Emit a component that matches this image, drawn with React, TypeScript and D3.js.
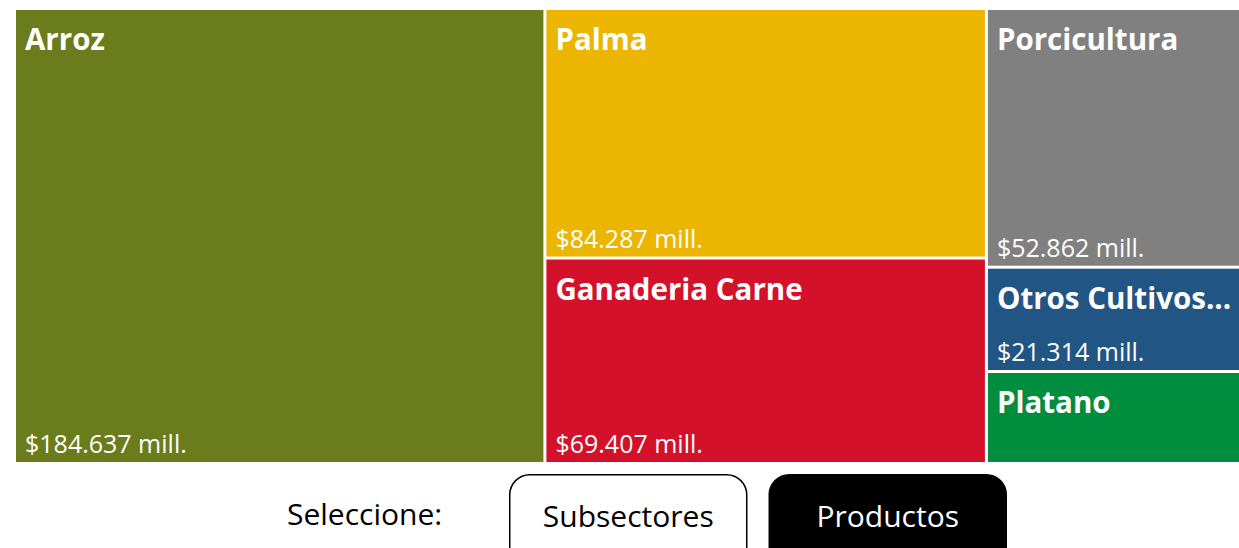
import React, { useEffect, useRef } from 'react';
import * as d3 from 'd3';

// productos y valores (millones)
const productos = ['Arroz', 'Palma', 'Ganaderia Carne', 'Porcicultura', 'Otros Cultivos...', 'Platano'];
const valores = [184.637, 84.287, 69.407, 52.862, 21.314, 18.8];
const colores = ['#6A7C1C', '#EBB500', '#D4112A', '#808080', '#215584', '#008E3E'];
// agrupacion en columnas del treemap
const columnas = [[0], [1, 2], [3, 4, 5]];
const botones = ['Subsectores', 'Productos'];
const botonActivo = 'Productos';

const FONT = "'Open Sans', 'Noto Sans', sans-serif";

const fmt = (v: number) => '$' + d3.format('.3f')(v) + ' mill.';

export default function App() {
    const ref = useRef<SVGSVGElement>(null);

    useEffect(() => {
        const width = 1239;
        const height = 548;
        const svg = d3.select(ref.current)
            .attr('width', width)
            .attr('height', height);
        svg.selectAll('*').remove();

        const data = {
            name: 'root',
            children: columnas.map((col, c) => ({
                name: 'col' + c,
                children: col.map(i => ({ name: productos[i], value: valores[i], color: colores[i] }))
            }))
        };

        const root = d3.hierarchy<any>(data).sum(d => d.value || 0);

        const tile = (node: any, x0: number, y0: number, x1: number, y1: number) => {
            if (node.depth === 0) d3.treemapDice(node, x0, y0, x1, y1);
            else d3.treemapSlice(node, x0, y0, x1, y1);
        };

        d3.treemap<any>()
            .size([1236, 452])
            .paddingInner(3)
            .tile(tile)(root);

        const g = svg.append('g').attr('transform', 'translate(16,10)');

        const cell = g.selectAll('g')
            .data(root.leaves())
            .enter()
            .append('g')
            .attr('transform', (d: any) => 'translate(' + d.x0 + ',' + d.y0 + ')');

        cell.append('rect')
            .attr('width', (d: any) => d.x1 - d.x0)
            .attr('height', (d: any) => d.y1 - d.y0)
            .attr('fill', (d: any) => d.data.color);

        cell.append('text')
            .attr('x', 9)
            .attr('y', 40)
            .attr('fill', '#fff')
            .attr('font-family', FONT)
            .attr('font-weight', 700)
            .attr('font-size', 29.5)
            .text((d: any) => d.data.name);

        // valor solo si cabe
        cell.filter((d: any) => d.y1 - d.y0 > 95)
            .append('text')
            .attr('x', 9)
            .attr('y', (d: any) => d.y1 - d.y0 - 9)
            .attr('fill', '#fff')
            .attr('font-family', FONT)
            .attr('font-size', 25)
            .text((d: any) => fmt(d.data.value));

        // selector
        svg.append('text')
            .attr('x', 287)
            .attr('y', 525)
            .attr('font-family', FONT)
            .attr('font-size', 30)
            .attr('fill', '#000')
            .text('Seleccione:');

        const bx = d3.scaleBand().domain(botones).range([509, 1007]).paddingInner(0.081);

        const b = svg.selectAll('g.btn')
            .data(botones)
            .enter()
            .append('g')
            .attr('class', 'btn')
            .attr('transform', d => 'translate(' + bx(d) + ',474)');

        b.append('rect')
            .attr('x', 0.75)
            .attr('y', 0.75)
            .attr('width', bx.bandwidth() - 1.5)
            .attr('height', 100)
            .attr('rx', 20)
            .attr('fill', d => d === botonActivo ? '#000' : '#fff')
            .attr('stroke', '#000')
            .attr('stroke-width', 1.5);

        b.append('text')
            .attr('x', bx.bandwidth() / 2)
            .attr('y', 53)
            .attr('text-anchor', 'middle')
            .attr('font-family', FONT)
            .attr('font-size', 30)
            .attr('fill', d => d === botonActivo ? '#fff' : '#000')
            .text(d => d);
    }, []);

    return (
        <svg ref={ref} style={{ position: 'absolute', left: 0, top: 0, display: 'block' }} />
    );
}
